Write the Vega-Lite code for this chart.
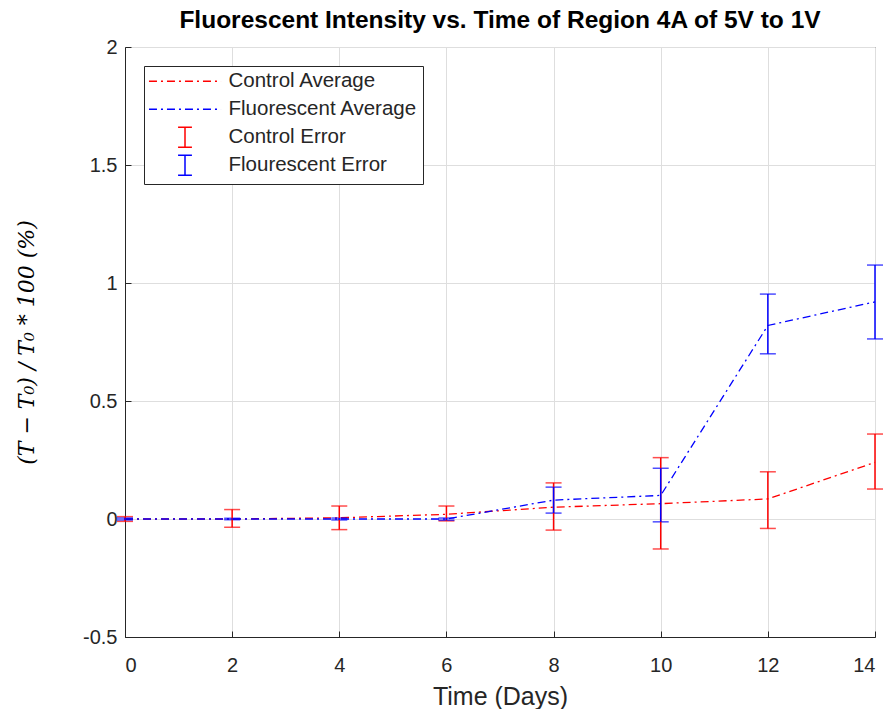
{
  "$schema": "https://vega.github.io/schema/vega-lite/v6.json",
  "width": 750,
  "height": 590,
  "autosize": {"type": "none"},
  "padding": {"left": 125, "top": 47, "right": 12, "bottom": 72},
  "background": "white",
  "title": {"text": "Fluorescent Intensity vs. Time of Region 4A of 5V to 1V", "font": "Liberation Sans", "fontSize": 24.5, "fontWeight": "bold", "color": "#000000", "offset": 4},
  "config": {
    "view": {"stroke": "#262626", "strokeWidth": 1},
    "axis": {"labelFont": "Liberation Sans", "labelFontSize": 20, "labelColor": "#262626", "titleFont": "Liberation Sans", "titleFontSize": 25, "titleColor": "#262626", "titleFontWeight": "normal", "gridColor": "#dedede", "gridOpacity": 1, "domainColor": "#262626", "tickColor": "#262626", "tickSize": -6}
  },
  "datasets": {
    "avg": [
      {"day": 0, "series": "Control Average", "value": 0},
      {"day": 2, "series": "Control Average", "value": 0},
      {"day": 4, "series": "Control Average", "value": 0.005},
      {"day": 6, "series": "Control Average", "value": 0.02},
      {"day": 8, "series": "Control Average", "value": 0.05},
      {"day": 10, "series": "Control Average", "value": 0.065},
      {"day": 12, "series": "Control Average", "value": 0.085},
      {"day": 14, "series": "Control Average", "value": 0.24},
      {"day": 0, "series": "Fluorescent Average", "value": 0},
      {"day": 2, "series": "Fluorescent Average", "value": 0},
      {"day": 4, "series": "Fluorescent Average", "value": 0},
      {"day": 6, "series": "Fluorescent Average", "value": 0},
      {"day": 8, "series": "Fluorescent Average", "value": 0.08},
      {"day": 10, "series": "Fluorescent Average", "value": 0.1},
      {"day": 12, "series": "Fluorescent Average", "value": 0.82},
      {"day": 14, "series": "Fluorescent Average", "value": 0.92}
    ],
    "err": [
      {"day": 0, "series": "Control Error", "lo": -0.01, "hi": 0.01},
      {"day": 2, "series": "Control Error", "lo": -0.035, "hi": 0.04},
      {"day": 4, "series": "Control Error", "lo": -0.045, "hi": 0.055},
      {"day": 6, "series": "Control Error", "lo": -0.008, "hi": 0.055},
      {"day": 8, "series": "Control Error", "lo": -0.047, "hi": 0.153},
      {"day": 10, "series": "Control Error", "lo": -0.127, "hi": 0.26},
      {"day": 12, "series": "Control Error", "lo": -0.04, "hi": 0.2},
      {"day": 14, "series": "Control Error", "lo": 0.127, "hi": 0.36},
      {"day": 0, "series": "Flourescent Error", "lo": -0.004, "hi": 0.004},
      {"day": 2, "series": "Flourescent Error", "lo": -0.003, "hi": 0.003},
      {"day": 4, "series": "Flourescent Error", "lo": -0.004, "hi": 0.004},
      {"day": 6, "series": "Flourescent Error", "lo": -0.005, "hi": 0.004},
      {"day": 8, "series": "Flourescent Error", "lo": 0.025, "hi": 0.135},
      {"day": 10, "series": "Flourescent Error", "lo": -0.012, "hi": 0.215},
      {"day": 12, "series": "Flourescent Error", "lo": 0.7, "hi": 0.953},
      {"day": 14, "series": "Flourescent Error", "lo": 0.763, "hi": 1.076}
    ]
  },
  "encoding": {
    "x": {"field": "day", "type": "quantitative", "scale": {"domain": [0, 14], "nice": false}, "axis": {"title": "Time (Days)", "values": [0, 2, 4, 6, 8, 10, 12, 14], "titlePadding": 9, "labelPadding": 24}},
    "color": {
      "field": "series", "type": "nominal",
      "scale": {"domain": ["Control Average", "Fluorescent Average", "Control Error", "Flourescent Error"], "range": ["#ff0000", "#0000ff", "#ff0000", "#0000ff"]},
      "legend": {
        "title": null, "orient": "top-left", "offset": 19,
        "fillColor": "white", "strokeColor": "#262626", "padding": 5,
        "labelFont": "Liberation Sans", "labelFontSize": 20.5, "labelColor": "#262626", "labelLimit": 400,
        "symbolSize": 300, "symbolStrokeWidth": 1.5, "rowPadding": 1, "labelOffset": 59,
        "gridAlign": "all",
        "encode": {
          "symbols": {
            "update": {
              "shape": {"signal": "indexof(datum.value, 'Error') >= 0 ? 'M-0.8,-1.15L0.8,-1.15M0,-1.15L0,1.15M-0.8,1.15L0.8,1.15' : 'M-4.16,0L4.16,0'"},
              "x": {"value": 36},
              "strokeDash": {"signal": "indexof(datum.value, 'Error') >= 0 ? [1,0] : [8,4,2,4]"},
              "fill": {"value": "transparent"}
            }
          }
        }
      }
    }
  },
  "layer": [
    {
      "data": {"name": "avg"},
      "mark": {"type": "line", "strokeDash": [8, 4, 2, 4], "strokeWidth": 1.3},
      "encoding": {
        "y": {"field": "value", "type": "quantitative", "scale": {"domain": [-0.5, 2], "nice": false}, "axis": {"title": "(T − T₀) / T₀ * 100 (%)", "titleFont": "DejaVu Serif", "titleFontStyle": "italic", "titleFontSize": 22, "titleColor": "#000000", "values": [-0.5, 0, 0.5, 1, 1.5, 2], "format": "~g", "labelExpr": "replace(datum.label, '−', '-')", "labelPadding": 14, "titlePadding": 44}}
      }
    },
    {
      "data": {"name": "err"},
      "mark": {"type": "errorbar", "ticks": {"size": 16}, "thickness": 1.5},
      "encoding": {
        "y": {"field": "lo", "type": "quantitative", "title": "(T − T₀) / T₀ * 100 (%)"},
        "y2": {"field": "hi"}
      }
    }
  ]
}
